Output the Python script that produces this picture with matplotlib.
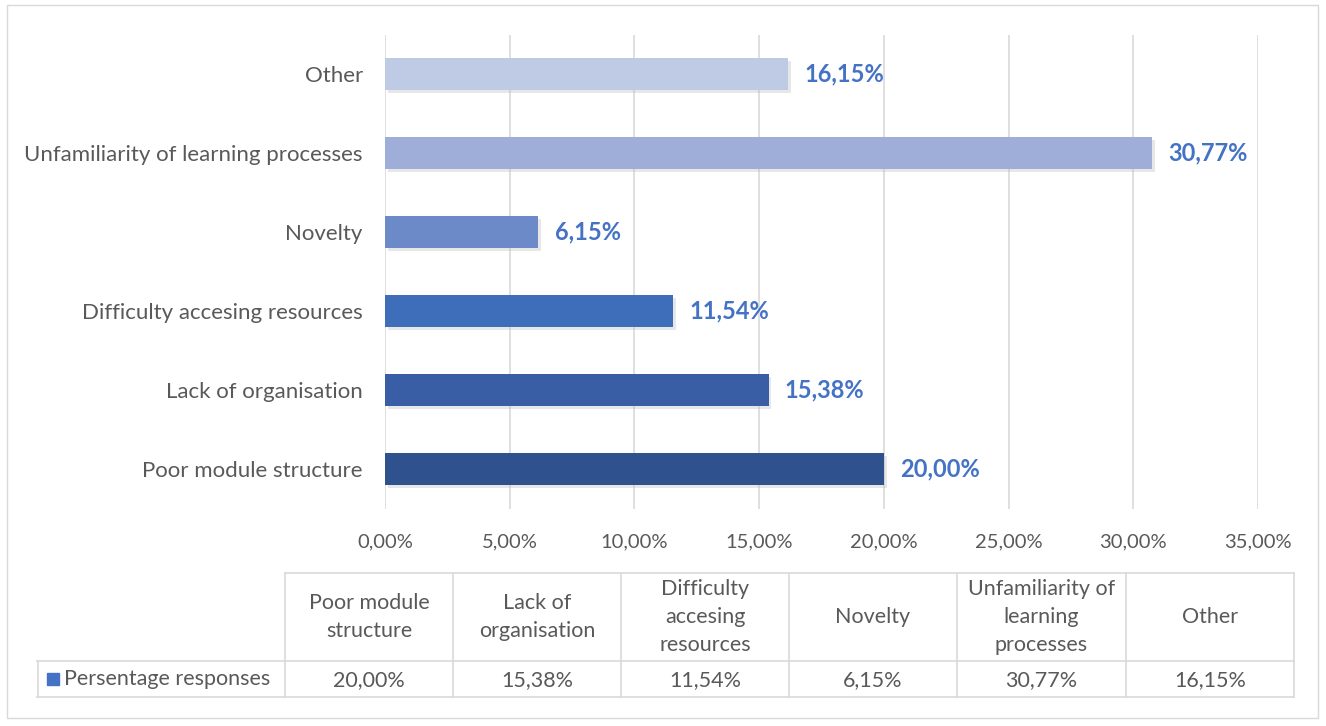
import matplotlib
matplotlib.use("Agg")
import matplotlib.pyplot as plt
from matplotlib.patches import Rectangle
import matplotlib.patheffects as pe

plt.rcParams['font.family'] = ['Lato', 'DejaVu Sans']

categories = ["Poor module structure", "Lack of organisation", "Difficulty accesing resources",
              "Novelty", "Unfamiliarity of learning processes", "Other"]
table_headers = ["Poor module\nstructure", "Lack of\norganisation", "Difficulty\naccesing\nresources",
                 "Novelty", "Unfamiliarity of\nlearning\nprocesses", "Other"]
values = [20.00, 15.38, 11.54, 6.15, 30.77, 16.15]
series_name = "Persentage responses"
xticks = [0, 5, 10, 15, 20, 25, 30, 35]
bar_colors = ["#2F528F", "#3A5EA5", "#3E6DBA", "#6D8AC8", "#9EAED8", "#BFCAE4"]

def fmt(v):
    return f"{v:.2f}".replace(".", ",") + "%"

W, H = 1326, 726
fig = plt.figure(figsize=(W / 100, H / 100), dpi=100)
text_col = "#595959"

# outer border
fig.patches.append(Rectangle((7 / W, 1 - 718 / H), (1318 - 7) / W, (718 - 5) / H,
                             transform=fig.transFigure, fill=False, edgecolor="#D9D9D9", lw=1))

ax = fig.add_axes([385 / W, 1 - 508.5 / H, (1258 - 385) / W, (508.5 - 34.5) / H])
y = list(range(len(categories)))
bars = ax.barh(y, values, height=0.41, color=bar_colors, zorder=3,
               path_effects=[pe.SimplePatchShadow(offset=(2, -2), shadow_rgbFace="#BBBBBB", alpha=0.35), pe.Normal()])
ax.set_xlim(0, 35)
ax.set_ylim(-0.5, len(categories) - 0.5)
ax.set_xticks(xticks)
ax.set_xticklabels([fmt(t) for t in xticks], fontsize=14.5, color=text_col)
ax.set_yticks(y)
ax.set_yticklabels(categories, fontsize=16, color=text_col)
ax.tick_params(axis="both", length=0)
ax.tick_params(axis="x", pad=18)
ax.tick_params(axis="y", pad=16)
for s in ax.spines.values():
    s.set_visible(False)
ax.grid(axis="x", color="#D9D9D9", lw=1.2, zorder=0)
for yi, v in zip(y, values):
    ax.text(v + 0.65, yi, fmt(v), va="center", ha="left", fontsize=17,
            fontweight="bold", color="#4472C4")

# data table
tax = fig.add_axes([37 / W, 1 - 698 / H, (1294 - 37) / W, (698 - 573) / H])
tax.set_xlim(37, 1294)
tax.set_ylim(698, 573)
tax.axis("off")
col_edges = [285, 453, 621, 789, 957, 1126, 1294]
lc = "#D9D9D9"
tax.plot([285, 1294], [573.5, 573.5], color=lc, lw=1.2, clip_on=False)
tax.plot([37, 1294], [661, 661], color=lc, lw=1.2, clip_on=False)
tax.plot([37, 1294], [697.5, 697.5], color=lc, lw=1.2, clip_on=False)
for xe in col_edges:
    tax.plot([xe, xe], [573.5, 697.5], color=lc, lw=1.2, clip_on=False)
tax.plot([37.5, 37.5], [661, 697.5], color=lc, lw=1.2, clip_on=False)
for i, (hdr, v) in enumerate(zip(table_headers, values)):
    xc = (col_edges[i] + col_edges[i + 1]) / 2
    tax.text(xc, 617, hdr, ha="center", va="center", fontsize=15.5, color=text_col,
             linespacing=1.5)
    tax.text(xc, 680, fmt(v), ha="center", va="center", fontsize=15.5, color=text_col)
tax.add_patch(Rectangle((47, 673), 12, 12, color="#4472C4", clip_on=False))
tax.text(64, 679, series_name, ha="left", va="center", fontsize=15.5, color=text_col)

fig.savefig("out.png", dpi=100)
